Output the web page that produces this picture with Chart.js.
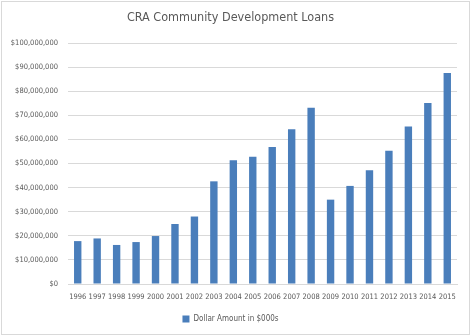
<!DOCTYPE html>
<html>
<head>
<meta charset="utf-8">
<script src="https://cdn.jsdelivr.net/npm/chart.js@4/dist/chart.umd.min.js"></script>
<style>
  body { margin: 0; background: #fff; }
</style>
</head>
<body>
<canvas id="loans_chart" width="471" height="336"></canvas>
<script>
const years = ['1996','1997','1998','1999','2000','2001','2002','2003','2004','2005',
               '2006','2007','2008','2009','2010','2011','2012','2013','2014','2015'];
const loanAmounts = [17800000, 18900000, 16200000, 17400000, 19900000, 24900000, 28000000, 42600000, 51400000, 52800000,
                     56800000, 64200000, 73100000, 35000000, 40700000, 47200000, 55300000, 65400000, 75100000, 87600000];
const seriesName = 'Dollar Amount in $000s';

const condensed = "'DejaVu Sans Condensed', sans-serif";

// light frame around the whole chart, like the Excel export
const frame = {
    id: 'frame',
    beforeDraw(chart) {
        const ctx = chart.ctx;
        ctx.save();
        ctx.fillStyle = '#fff';
        ctx.fillRect(0, 0, chart.width, chart.height);
        ctx.strokeStyle = '#d9d9d9';
        ctx.lineWidth = 1;
        ctx.strokeRect(1.5, 1.5, chart.width - 3, chart.height - 3);
        ctx.restore();
    }
};

const ctx = document.getElementById('loans_chart').getContext('2d');
const myChart = new Chart(ctx, {
    type: 'bar',
    data: {
        labels: years,
        datasets: [{
            label: seriesName,
            data: loanAmounts,
            backgroundColor: '#4a7ebb',
            borderColor: '#4a7ebb',
            borderWidth: 0,
            barPercentage: 0.38,
            categoryPercentage: 1
        }]
    },
    options: {
        responsive: false,
        animation: false,
        layout: { padding: { left: 4, right: 14, top: 6, bottom: 3 } },
        plugins: {
            title: {
                display: true,
                text: 'CRA Community Development Loans',
                color: '#595959',
                font: { family: condensed, size: 12.5, weight: 'normal' },
                padding: { top: 4, bottom: 18 }
            },
            legend: {
                position: 'bottom',
                labels: {
                    boxWidth: 7,
                    boxHeight: 7,
                    color: '#595959',
                    font: { family: condensed, size: 8 },
                    padding: 6
                }
            },
            tooltip: { enabled: false }
        },
        scales: {
            x: {
                grid: { display: false, drawTicks: false },
                border: { color: '#d9d9d9' },
                ticks: {
                    color: '#595959',
                    font: { family: condensed, size: 7.5 },
                    maxRotation: 0,
                    autoSkip: false,
                    padding: 9
                },
                afterFit: axis => { axis.height = 25; }
            },
            y: {
                min: 0,
                max: 100000000,
                grid: { color: '#d9d9d9', drawTicks: false },
                border: { display: false },
                ticks: {
                    stepSize: 10000000,
                    color: '#595959',
                    font: { family: condensed, size: 7.5 },
                    padding: 10,
                    callback: v => '$' + v.toLocaleString('en-US')
                },
                afterFit: axis => { axis.width = 64; }
            }
        }
    },
    plugins: [frame]
});
</script>
</body>
</html>
